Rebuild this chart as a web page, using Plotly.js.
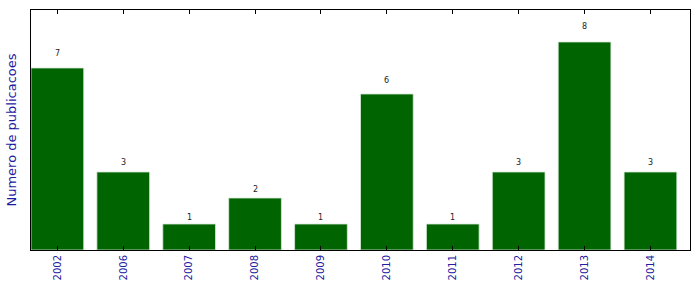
<!DOCTYPE html>
<html>
<head>
<meta charset="utf-8">
<script src="https://cdn.plot.ly/plotly-3.0.1.min.js"></script>
<style>body{margin:0;padding:0;background:#fff}#chart{width:699px;height:292px}</style>
</head>
<body>
<div id="chart"></div>
<script>
const years = ["2002","2006","2007","2008","2009","2010","2011","2012","2013","2014"];
const counts = [7, 3, 1, 2, 1, 6, 1, 3, 8, 3];
const yTitle = "Numero de publicacoes";

const xs = years.map((_, i) => i);
const trace = {
  type: 'bar',
  x: xs,
  y: counts,
  width: 0.8,
  marker: {color: '#006400', line: {color: '#d8e8d8', width: 0.8}},
  hoverinfo: 'none'
};
const annotations = counts.map((v, i) => ({
  x: i, y: v * 1.05, xref: 'x', yref: 'y',
  text: String(v), showarrow: false,
  font: {family: 'DejaVu Sans', size: 8, color: '#222'},
  yanchor: 'bottom', yshift: -1
}));
const layout = {
  width: 699, height: 292,
  margin: {l: 31, r: 9, t: 10, b: 42},
  paper_bgcolor: '#fff', plot_bgcolor: '#fff',
  showlegend: false,
  font: {family: 'DejaVu Sans'},
  xaxis: {
    range: [-0.4, 9.6],
    tickmode: 'array', tickvals: xs, ticktext: years,
    tickangle: -90,
    ticks: 'inside', ticklen: 4, tickcolor: '#000', tickwidth: 1,
    tickfont: {family: 'DejaVu Sans', size: 10, color: '#2020a0'},
    showline: true, linecolor: '#000', linewidth: 1, mirror: 'ticks',
    showgrid: false, zeroline: false
  },
  yaxis: {
    range: [0, 9.23],
    showticklabels: false, ticks: '',
    showline: true, linecolor: '#000', linewidth: 1, mirror: true,
    showgrid: false, zeroline: false,
    title: {text: yTitle, font: {family: 'DejaVu Sans', size: 13, color: '#1a1aa0'}, standoff: 10}
  },
  annotations: annotations
};
Plotly.newPlot('chart', [trace], layout, {displayModeBar: false, staticPlot: true});
</script>
</body>
</html>
